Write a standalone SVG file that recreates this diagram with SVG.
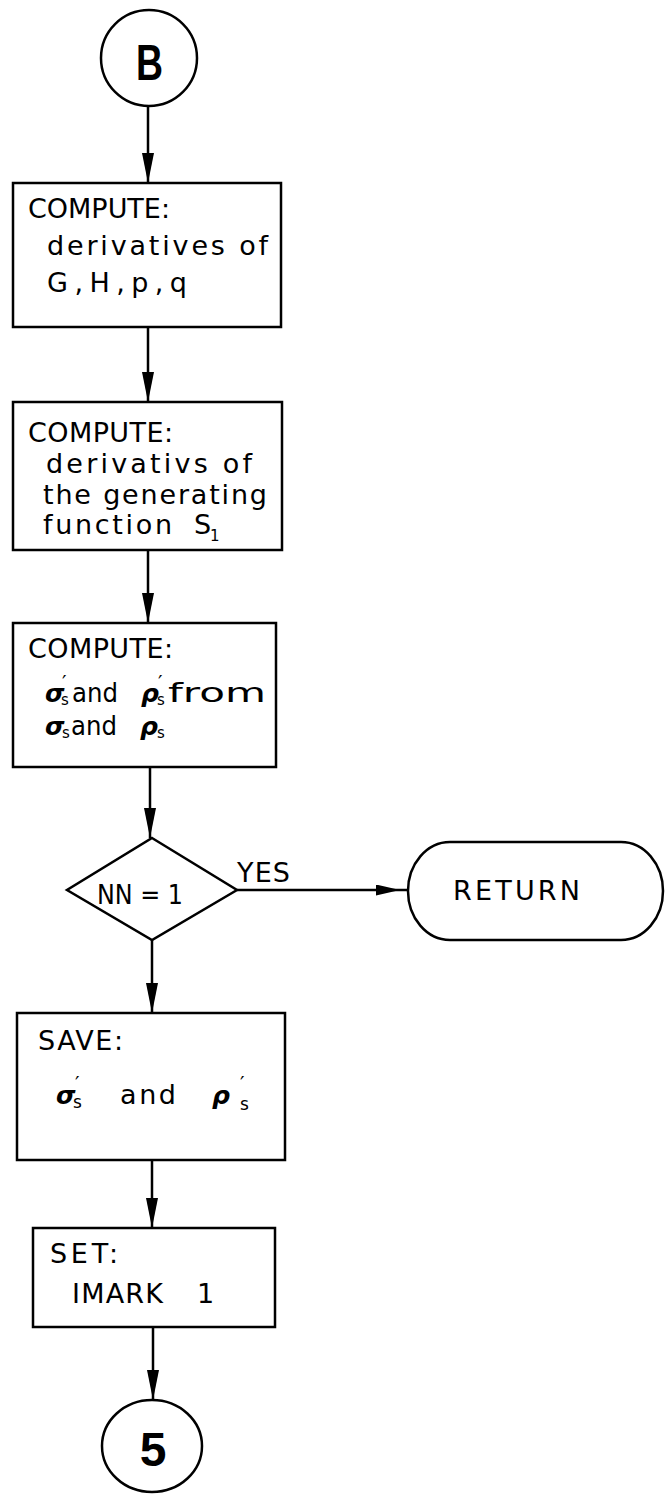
<svg xmlns="http://www.w3.org/2000/svg" width="665" height="1494" viewBox="0 0 665 1494">
<defs>
<style>
.shape{fill:#fff;stroke:#000;stroke-width:2.5}
.conn{fill:none;stroke:#000;stroke-width:2.5}
.t{font-family:"DejaVu Sans","Liberation Sans",sans-serif;font-size:27px;fill:#000}
.g{font-family:"DejaVu Sans","Liberation Sans",sans-serif;font-size:25px;font-style:italic;font-weight:bold;fill:#000}
.sm{font-size:15px;font-style:normal;font-weight:normal}
.sm2{font-size:17px;font-style:normal;font-weight:normal}
.pr{font-size:20px;font-style:normal;font-weight:normal}
.big{font-family:"Liberation Sans",sans-serif;font-weight:bold;fill:#000}
</style>
<marker id="arr" markerUnits="userSpaceOnUse" markerWidth="30" markerHeight="12" refX="30" refY="6" orient="auto">
<path d="M0,0 L30,6 L0,12 Z" fill="#000"/>
</marker>
<marker id="arrS" markerUnits="userSpaceOnUse" markerWidth="24" markerHeight="11" refX="24" refY="5.5" orient="auto">
<path d="M0,0 L24,5.5 L0,11 Z" fill="#000"/>
</marker>
</defs>
<rect width="665" height="1494" fill="#fff"/>

<g id="connectors">
<path class="conn" d="M148,106 V183" marker-end="url(#arr)"/>
<path class="conn" d="M148,327 V402" marker-end="url(#arr)"/>
<path class="conn" d="M148,550 V623" marker-end="url(#arr)"/>
<path class="conn" d="M150,767 V838" marker-end="url(#arr)"/>
<path class="conn" d="M237,890 H400" marker-end="url(#arrS)"/>
<path class="conn" d="M400,890 H408"/>
<path class="conn" d="M152,940 V1013" marker-end="url(#arr)"/>
<path class="conn" d="M152,1160 V1228" marker-end="url(#arr)"/>
<path class="conn" d="M153,1327 V1400" marker-end="url(#arr)"/>
</g>

<g id="startB">
<circle class="shape" cx="149" cy="58" r="48"/>
<text class="big" x="136" y="80" font-size="50" textLength="27" lengthAdjust="spacingAndGlyphs">B</text>
</g>

<g id="box1">
<rect class="shape" x="13" y="183" width="268" height="144"/>
<text class="t" x="28" y="218" textLength="142">COMPUTE:</text>
<text class="t" x="47" y="255" textLength="221">derivatives of</text>
<text class="t" x="47" y="292" textLength="140">G,H,p,q</text>
</g>

<g id="box2">
<rect class="shape" x="13" y="402" width="269" height="148"/>
<text class="t" x="28" y="442" textLength="145">COMPUTE:</text>
<text class="t" x="46" y="473" textLength="206">derivativs of</text>
<text class="t" x="43" y="504" textLength="224">the generating</text>
<text class="t" x="43" y="534" textLength="129">function</text>
<text class="t" x="194" y="534">S<tspan class="sm" x="210" y="541">1</tspan></text>
</g>

<g id="box3">
<rect class="shape" x="13" y="623" width="263" height="144"/>
<text class="t" x="28" y="658" textLength="145">COMPUTE:</text>
<text class="g" x="45" y="702">σ<tspan class="pr" x="62" y="689">′</tspan><tspan class="sm" x="61" y="705">s</tspan></text>
<text class="t" x="72" y="702" textLength="46" lengthAdjust="spacingAndGlyphs">and</text>
<text class="g" x="141" y="702">ρ<tspan class="pr" x="158" y="689">′</tspan><tspan class="sm" x="157" y="705">s</tspan></text>
<text class="t" x="168" y="702" textLength="98" lengthAdjust="spacingAndGlyphs">from</text>
<text class="g" x="45" y="735">σ<tspan class="sm" x="62" y="738">s</tspan></text>
<text class="t" x="71" y="735" textLength="46" lengthAdjust="spacingAndGlyphs">and</text>
<text class="g" x="140" y="735">ρ<tspan class="sm" x="157" y="738">s</tspan></text>
</g>

<g id="decision">
<polygon class="shape" points="152,838 237,890 152,940 67,890"/>
<text class="t" x="97" y="904" font-size="28" textLength="86" lengthAdjust="spacingAndGlyphs">NN = 1</text>
</g>

<g id="yesLabel">
<text class="t" x="237" y="882" textLength="53">YES</text>
</g>

<g id="return">
<rect class="shape" x="408" y="842" width="255" height="98" rx="42" ry="49"/>
<text class="t" x="453" y="900" textLength="127">RETURN</text>
</g>

<g id="box4">
<rect class="shape" x="17" y="1013" width="268" height="147"/>
<text class="t" x="38" y="1050" textLength="85">SAVE:</text>
<text class="g" x="56" y="1104">σ<tspan class="pr" x="75" y="1090">′</tspan><tspan class="sm2" x="73" y="1108">s</tspan></text>
<text class="t" x="120" y="1104" textLength="56">and</text>
<text class="g" x="212" y="1104">ρ<tspan class="pr" x="240" y="1090">′</tspan><tspan class="sm2" x="240" y="1110">s</tspan></text>
</g>

<g id="box5">
<rect class="shape" x="33" y="1228" width="242" height="99"/>
<text class="t" x="50" y="1263" textLength="68">SET:</text>
<text class="t" x="72" y="1303" textLength="91">IMARK</text>
<text class="t" x="197" y="1303">1</text>
</g>

<g id="end5">
<ellipse class="shape" cx="152" cy="1446" rx="50" ry="46"/>
<text class="big" x="153" y="1466" font-size="48" font-weight="normal" text-anchor="middle">5</text>
</g>
</svg>
